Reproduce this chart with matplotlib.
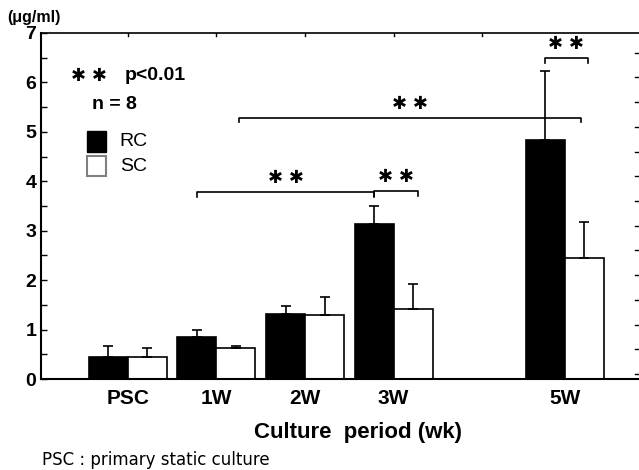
import numpy as np
import matplotlib.pyplot as plt

plt.rcParams['font.family'] = ['Liberation Sans', 'DejaVu Sans']

#data
groups = ['PSC', '1W', '2W', '3W', '5W']
group_pos = [0, 1, 2, 3, 4.93]
rc_mean = [0.45, 0.84, 1.31, 3.14, 4.84]
rc_err = [0.22, 0.15, 0.16, 0.36, 1.40]
sc_mean = [0.44, 0.62, 1.30, 1.42, 2.45]
sc_err = [0.18, 0.04, 0.36, 0.50, 0.73]

#brackets: (x start, x end, height)
brackets = [(1 - 0.22, 3 - 0.22, 3.79),
            (3 - 0.22 + 0.0, 3 + 0.22 + 0.05, 3.80),
            (1 + 0.25, 4.93 + 0.18, 5.29),
            (4.93 - 0.22, 4.93 + 0.26, 6.50)]

STAR = '\u2731 \u2731'

fig = plt.figure(figsize=(6.39, 4.70), dpi=100)
ax = fig.add_axes([0.0642, 0.1936, 0.936, 0.7362])

w = 0.44
x = np.array(group_pos)
ax.bar(x - w/2, rc_mean, width=w, color='black', edgecolor='black', linewidth=1.2)
ax.bar(x + w/2, sc_mean, width=w, color='white', edgecolor='black', linewidth=1.2)
ax.errorbar(x - w/2, rc_mean, yerr=[np.zeros(5), rc_err], fmt='none',
            ecolor='black', elinewidth=1.2, capsize=3.5, capthick=1.2)
ax.errorbar(x + w/2, sc_mean, yerr=[np.zeros(5), sc_err], fmt='none',
            ecolor='black', elinewidth=1.2, capsize=3.5, capthick=1.2)

#significance brackets
for x0, x1, h in brackets:
    ax.plot([x0, x0, x1, x1], [h - 0.1, h, h, h - 0.1], color='black', lw=1.2)
    ax.text((x0 + x1) / 2, h + 0.1, STAR, ha='center', va='bottom',
            fontsize=13, family='DejaVu Sans')

ax.set_xlim(-0.979, 5.77)
ax.set_ylim(0, 7)
ax.set_xticks(group_pos)
ax.set_xticklabels(groups, fontsize=15, fontweight='bold')
ax.tick_params(axis='x', length=0, pad=7)
ax.set_yticks(range(8))
ax.set_yticklabels([str(i) for i in range(8)], fontsize=14, fontweight='bold')
ax.set_yticks(np.arange(0.5, 7, 1), minor=True)
ax.tick_params(axis='y', which='both', direction='in', length=4, width=1)
ax.spines['left'].set_linewidth(1.5)
ax.spines['bottom'].set_linewidth(1.5)
ax.spines['top'].set_linewidth(1.2)
ax.spines['right'].set_visible(False)

#ticks along top and right
for t in range(5):
    ax.plot([t, t], [7, 6.93], color='black', lw=1)
for yt in np.arange(0.1, 6.7, 0.5):
    ax.plot([5.72, 5.77], [yt, yt], color='black', lw=1)

ax.set_xlabel('Culture  period (wk)', fontsize=16, fontweight='bold', labelpad=6)
ax.xaxis.set_label_coords(0.53, -0.125)
fig.text(0.011, 0.962, '(μg/ml)', fontsize=11.5, fontweight='bold', va='center')
fig.text(0.066, 0.022, 'PSC : primary static culture', fontsize=12,
         va='center', family='DejaVu Sans')

ax.text(-0.64, 6.13, STAR, fontsize=13, va='center', family='DejaVu Sans')
ax.text(-0.04, 6.13, 'p<0.01', fontsize=14, fontweight='bold', va='center')
ax.text(-0.40, 5.55, 'n = 8', fontsize=14, fontweight='bold', va='center')
ax.add_patch(plt.Rectangle((-0.465, 4.6), 0.22, 0.42, facecolor='black',
                           edgecolor='black', clip_on=False))
ax.add_patch(plt.Rectangle((-0.465, 4.1), 0.22, 0.42, facecolor='white',
                           edgecolor='gray', lw=1.5, clip_on=False))
ax.text(-0.09, 4.81, 'RC', fontsize=14, va='center')
ax.text(-0.09, 4.3, 'SC', fontsize=14, va='center')

fig.savefig('out.png', dpi=100)
